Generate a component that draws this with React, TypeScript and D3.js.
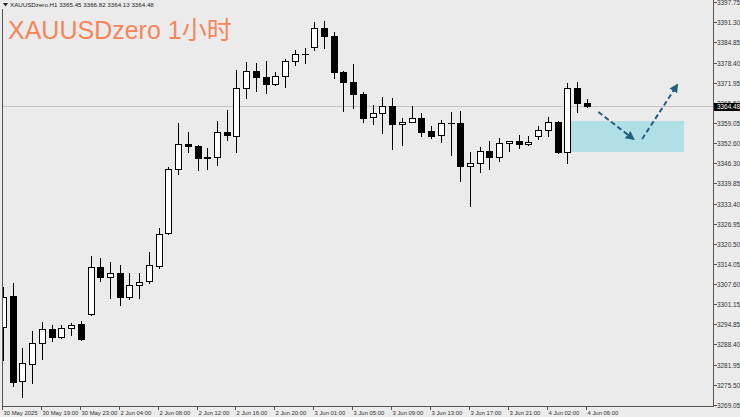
import React from "react";
import * as d3 from "d3";

const opens = [3293.96,3303.86,3276.72,3282.15,3288.85,3293.32,3290.77,3293.64,3294.92,3298.11,3313.12,3309.93,3311.21,3303.54,3307.38,3308.65,3313.44,3323.98,3344.42,3352.40,3351.76,3348.25,3348.25,3356.24,3354.96,3370.29,3375.72,3373.80,3371.56,3374.12,3378.91,3381.15,3383.38,3389.45,3386.89,3375.40,3372.20,3368.37,3361.03,3362.30,3364.54,3358.79,3359.43,3360.71,3356.56,3355.28,3359.11,3359.11,3345.38,3346.34,3350.17,3348.25,3352.72,3353.36,3352.40,3354.96,3356.87,3359.43,3349.85,3370.29,3365.45];
const highs = [3306.74,3308.01,3287.26,3292.69,3295.56,3294.60,3294.60,3295.24,3295.88,3316.64,3315.99,3314.72,3313.76,3311.21,3311.21,3317.91,3325.58,3345.06,3359.11,3356.24,3352.08,3351.13,3359.75,3363.26,3376.04,3378.59,3378.27,3378.91,3375.40,3379.55,3382.42,3383.06,3391.36,3391.68,3388.17,3375.72,3377.95,3369.01,3364.86,3367.41,3367.09,3360.71,3364.54,3362.30,3358.15,3360.07,3362.62,3362.94,3349.85,3351.45,3353.36,3354.32,3353.50,3355.28,3354.96,3358.15,3361.03,3359.75,3371.88,3372.20,3366.82];
const lows = [3283.42,3275.12,3271.61,3276.08,3283.74,3289.49,3290.45,3291.41,3289.81,3297.79,3308.65,3303.22,3300.99,3302.90,3303.22,3308.01,3312.80,3323.66,3342.82,3349.85,3344.10,3344.42,3345.70,3353.68,3349.85,3367.09,3369.33,3368.69,3371.25,3370.61,3377.63,3378.27,3382.42,3383.06,3373.48,3362.94,3363.90,3359.43,3358.79,3355.92,3350.81,3352.08,3359.43,3354.96,3354.32,3353.04,3348.89,3340.59,3332.60,3343.46,3344.42,3346.97,3350.17,3351.13,3352.20,3354.00,3354.96,3349.53,3346.34,3362.62,3364.13];
const closes = [3303.54,3276.40,3282.47,3288.85,3293.32,3290.77,3293.64,3294.60,3290.13,3313.12,3309.93,3311.21,3303.54,3307.38,3308.33,3313.76,3323.66,3344.42,3352.40,3351.76,3347.93,3347.93,3356.24,3355.28,3370.29,3375.72,3373.80,3371.56,3374.12,3378.91,3381.15,3381.15,3389.45,3386.89,3375.40,3372.20,3368.37,3360.71,3362.30,3364.54,3358.79,3359.43,3360.71,3356.24,3354.96,3359.11,3359.11,3345.38,3346.34,3350.17,3348.25,3352.72,3353.36,3352.40,3353.04,3356.87,3359.43,3349.85,3370.29,3365.45,3364.48];

const timeLabels = ["30 May 2025","30 May 19:00","30 May 23:00","2 Jun 04:00","2 Jun 08:00","2 Jun 12:00","2 Jun 16:00","2 Jun 20:00","3 Jun 01:00","3 Jun 05:00","3 Jun 09:00","3 Jun 13:00","3 Jun 17:00","3 Jun 21:00","4 Jun 02:00","4 Jun 06:00"];
const priceLabels = ["3397.75","3391.30","3384.85","3378.40","3371.95","3365.50","3359.05","3352.60","3346.30","3339.85","3333.40","3326.95","3320.50","3314.05","3307.60","3301.15","3294.85","3288.40","3281.95","3275.50","3269.05"];

const currentPrice = 3364.48;
const headerText = "XAUUSDzero.H1  3365.45 3366.82 3364.13 3364.48";
const titleText = "XAUUSDzero 1小时";

// zone and arrows (bar index, price)
const zoneBars = [58, 70];
const zonePrices = [3359.75, 3349.85];
const arrowA = [[61.2, 3362.62], [64.8, 3354.0]];
const arrowB = [[65.7, 3354.0], [69.3, 3371.25]];

const W = 740, H = 417;
const axisX = 713, axisY = 406, leftX = 2;

export default function App() {
  const x = d3.scaleLinear().domain([0, 60]).range([3, 586.7]);
  const y = d3.scaleLinear().domain([3269.05, 3397.75]).range([405, 2]);
  const line = d3.line<number[]>().x(d => x(d[0])).y(d => y(d[1]));
  const arrowColor = "#245f80";
  const font = "'Liberation Sans', Arial, sans-serif";

  return (
    <svg width={W} height={H} style={{ position: "absolute", left: 0, top: 0, background: "#ebebeb" }}>
      <defs>
        <marker id="ah" viewBox="0 0 10 10" refX="8" refY="5" markerWidth="4.5" markerHeight="4.5" orient="auto">
          <path d="M0,0 L10,5 L0,10 z" fill={arrowColor} />
        </marker>
        <clipPath id="plot"><rect x={leftX + 1} y={0} width={axisX - leftX - 1} height={axisY} /></clipPath>
      </defs>
      <rect x={0} y={0} width={W} height={H} fill="#ebebeb" />
      {/* zone */}
      <rect x={x(zoneBars[0])} y={y(zonePrices[0])} width={x(zoneBars[1]) - x(zoneBars[0])}
        height={y(zonePrices[1]) - y(zonePrices[0])} fill="#b0e0e6" />
      {/* current price line */}
      <line x1={leftX} x2={axisX} y1={Math.round(y(currentPrice)) + 0.5} y2={Math.round(y(currentPrice)) + 0.5} stroke="#c4c4c4" strokeWidth={1} />
      {/* candles */}
      <g clipPath="url(#plot)">
        {opens.map((o, i) => {
          const c = closes[i];
          const cx = Math.round(x(i)) + 0.5;
          const yt = Math.round(y(Math.max(o, c)));
          const yb = Math.round(y(Math.min(o, c)));
          const bull = c >= o;
          return (
            <g key={i}>
              <line x1={cx} x2={cx} y1={Math.round(y(highs[i]))} y2={Math.round(y(lows[i])) + 1} stroke="#000" strokeWidth={1} />
              {yb - yt >= 1 ? (
                <rect x={cx - 3} y={yt + 0.5} width={6} height={yb - yt} fill={bull ? "#fff" : "#000"} stroke="#000" strokeWidth={1} />
              ) : (
                <line x1={cx - 3.5} x2={cx + 3.5} y1={yt + 0.5} y2={yt + 0.5} stroke="#000" strokeWidth={1} />
              )}
            </g>
          );
        })}
      </g>
      {/* arrows */}
      <path d={line(arrowA) || ""} fill="none" stroke={arrowColor} strokeWidth={2} strokeDasharray="5,3" markerEnd="url(#ah)" />
      <path d={line(arrowB) || ""} fill="none" stroke={arrowColor} strokeWidth={2} strokeDasharray="5,3" markerEnd="url(#ah)" />
      {/* frame */}
      <line x1={leftX + 0.5} x2={leftX + 0.5} y1={9} y2={axisY} stroke="#555" strokeWidth={1} />
      <line x1={axisX + 0.5} x2={axisX + 0.5} y1={0} y2={axisY + 0.5} stroke="#555" strokeWidth={1} />
      <line x1={leftX} x2={axisX + 1} y1={axisY + 0.5} y2={axisY + 0.5} stroke="#555" strokeWidth={1} />
      {/* price axis */}
      {priceLabels.map((p, i) => {
        const py = Math.round(y(+p)) + 0.5;
        return (
          <g key={i}>
            <line x1={axisX + 1} x2={axisX + 4} y1={py} y2={py} stroke="#555" />
            <text x={axisX + 4} y={py} dy="0.35em" fontSize={6.4} fontFamily={font} fill="#333">{p}</text>
          </g>
        );
      })}
      <rect x={axisX + 1} y={Math.round(y(currentPrice)) - 3} width={W - axisX - 1} height={8} fill="#000" />
      <text x={axisX + 4} y={Math.round(y(currentPrice)) + 1} dy="0.35em" fontSize={6.4} fontFamily={font} fill="#fff">{currentPrice.toFixed(2)}</text>
      {/* time axis */}
      {timeLabels.map((t, i) => {
        const tx = Math.round(x(i * 4)) - 0.5;
        return (
          <g key={i}>
            <line x1={tx} x2={tx} y1={axisY} y2={axisY + 4} stroke="#555" />
            <text x={tx + 1} y={413} dy="0.35em" fontSize={5.9} fontFamily={font} fill="#333">{t}</text>
          </g>
        );
      })}
      {/* header */}
      <path d="M3,3 L8,3 L5.5,6.5 z" fill="#222" />
      <text x={10} y={7} fontSize={6.2} fontFamily={font} fill="#222">{headerText}</text>
      <text x={8} y={39} fontSize={25} fontFamily="'Liberation Sans', 'Noto Sans CJK SC', sans-serif" fill="#f5865a">{titleText}</text>
    </svg>
  );
}
